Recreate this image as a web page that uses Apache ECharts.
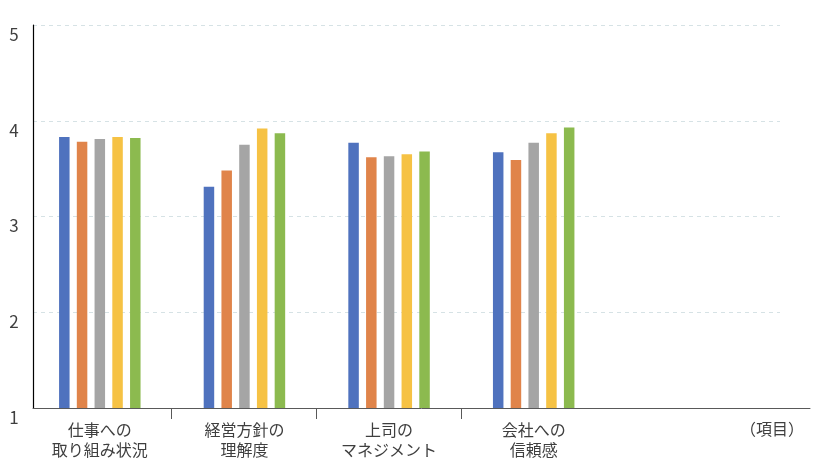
<!DOCTYPE html>
<html lang="ja">
<head>
<meta charset="UTF-8">
<title>項目別スコア</title>
<script src="https://cdn.jsdelivr.net/npm/echarts@6/dist/echarts.min.js"></script>
<style>
  html, body { margin: 0; padding: 0; background: #fff; }
  #main { width: 816px; height: 475px; }
</style>
</head>
<body>
<div id="main"></div>
<script>
// data
var categories = ['仕事への\n取り組み状況', '経営方針の\n理解度', '上司の\nマネジメント', '会社への\n信頼感'];
var seriesNames = ['系列1', '系列2', '系列3', '系列4', '系列5'];
var seriesColors = ['#4f72be', '#e0844a', '#a5a5a5', '#f6c244', '#8cba4f'];
var values1 = [3.83, 3.31, 3.77, 3.67];
var values2 = [3.78, 3.48, 3.62, 3.59];
var values3 = [3.81, 3.75, 3.63, 3.77];
var values4 = [3.83, 3.92, 3.65, 3.87];
var values5 = [3.82, 3.87, 3.68, 3.93];
var yTicks = [1, 2, 3, 4, 5];
var xAxisName = '（項目）';

var allValues = [values1, values2, values3, values4, values5];
var font = '"Noto Sans CJK JP", "Noto Sans", sans-serif';
var textColor = '#3f3f3f';

var chart = echarts.init(document.getElementById('main'));

var series = allValues.map(function (vals, i) {
  return {
    name: seriesNames[i],
    type: 'bar',
    xAxisIndex: 0,
    yAxisIndex: 0,
    barWidth: 10.5,
    barGap: '69%',
    itemStyle: { color: seriesColors[i] },
    data: vals
  };
});

var option = {
  animation: false,
  textStyle: { fontFamily: font },
  grid: [
    // bars
    { left: 27.5, right: 210, top: 25, bottom: 67 },
    // y axis + split lines
    { left: 33, right: 36, top: 25, bottom: 67 },
    // x axis line
    { left: 33, right: 6, top: 25, bottom: 67 },
    // category dividers
    { left: 171.4, right: 355.2, top: 25, bottom: 67 }
  ],
  xAxis: [
    {
      gridIndex: 0,
      type: 'category',
      data: categories,
      axisLine: { show: false },
      axisTick: { show: false },
      axisLabel: {
        margin: 12,
        fontSize: 16,
        lineHeight: 20,
        color: textColor,
        fontFamily: font,
        interval: 0
      }
    },
    { gridIndex: 1, type: 'value', show: false, min: 0, max: 1 },
    {
      gridIndex: 2,
      type: 'value',
      min: 0,
      max: 1,
      axisLine: { show: true, lineStyle: { color: '#595959', width: 1 } },
      axisTick: { show: false },
      axisLabel: { show: false },
      splitLine: { show: false },
      name: xAxisName,
      nameLocation: 'end',
      nameGap: -6,
      nameTextStyle: {
        align: 'right',
        verticalAlign: 'top',
        fontSize: 16,
        lineHeight: 20,
        color: textColor,
        fontFamily: font,
        padding: [11, 0, 0, 0]
      }
    },
    {
      gridIndex: 3,
      type: 'value',
      min: 1,
      max: 3,
      interval: 1,
      axisLine: { show: false },
      axisTick: { show: true, length: 11, lineStyle: { color: '#595959', width: 1 } },
      axisLabel: { show: false },
      splitLine: { show: false }
    }
  ],
  yAxis: [
    { gridIndex: 0, type: 'value', min: 1, max: 5, show: false },
    {
      gridIndex: 1,
      type: 'value',
      min: yTicks[0],
      max: yTicks[yTicks.length - 1],
      interval: 1,
      axisLine: { show: true, lineStyle: { color: '#000', width: 1.2 } },
      axisTick: { show: false },
      axisLabel: {
        align: 'center',
        verticalAlign: 'top',
        margin: 19,
        fontSize: 17,
        lineHeight: 19,
        color: textColor,
        fontFamily: font
      },
      splitLine: {
        show: true,
        lineStyle: { color: '#d6e2e5', type: [4, 4], width: 1 }
      }
    },
    { gridIndex: 2, type: 'value', min: 1, max: 5, show: false },
    { gridIndex: 3, type: 'value', min: 1, max: 5, show: false }
  ],
  series: series
};

chart.setOption(option);
</script>
</body>
</html>
